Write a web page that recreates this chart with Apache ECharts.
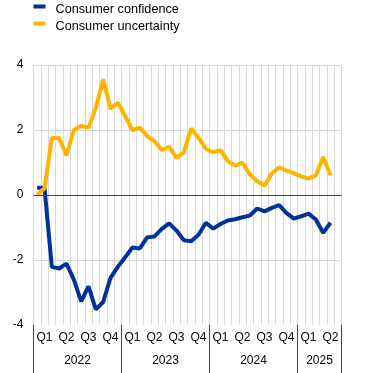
<!DOCTYPE html>
<html>
<head>
<meta charset="utf-8">
<script src="https://cdn.jsdelivr.net/npm/echarts@6/dist/echarts.min.js"></script>
<style>
html,body{margin:0;padding:0;background:#fff;}
#chart{width:372px;height:373px;}
</style>
</head>
<body>
<div id="chart"></div>
<script>
// Monthly categories, Jan 2022 - Jun 2025
const months = [
  '2022-01','2022-02','2022-03','2022-04','2022-05','2022-06','2022-07','2022-08','2022-09','2022-10','2022-11','2022-12',
  '2023-01','2023-02','2023-03','2023-04','2023-05','2023-06','2023-07','2023-08','2023-09','2023-10','2023-11','2023-12',
  '2024-01','2024-02','2024-03','2024-04','2024-05','2024-06','2024-07','2024-08','2024-09','2024-10','2024-11','2024-12',
  '2025-01','2025-02','2025-03','2025-04','2025-05','2025-06'
];
const consumerConfidence = [
  0.22, 0.22, -2.22, -2.27, -2.12, -2.61, -3.28, -2.82, -3.53, -3.30, -2.56, -2.22,
  -1.92, -1.62, -1.65, -1.31, -1.28, -1.05, -0.88, -1.10, -1.40, -1.43, -1.23, -0.86,
  -1.04, -0.90, -0.79, -0.75, -0.69, -0.64, -0.42, -0.51, -0.40, -0.32, -0.56, -0.73,
  -0.66, -0.58, -0.76, -1.17, -0.86
];
const consumerUncertainty = [
  0.00, 0.20, 1.75, 1.75, 1.21, 2.00, 2.12, 2.07, 2.68, 3.56, 2.65, 2.84,
  2.43, 1.99, 2.07, 1.81, 1.65, 1.38, 1.48, 1.14, 1.31, 2.04, 1.76, 1.42,
  1.31, 1.38, 1.04, 0.90, 0.99, 0.63, 0.42, 0.29, 0.66, 0.85, 0.75, 0.66,
  0.57, 0.50, 0.60, 1.17, 0.60
];
const quarterLabels = ['Q1','Q2','Q3','Q4'];
const yearLabels = ['2022','2023','2024','2025'];
const yearCenters = [6, 18, 30, 39];
const yearBounds = [0, 12, 24, 36, 42];
const yTicks = [-4, -2, 0, 2, 4];

const FONT = 'Liberation Sans, Arial, sans-serif';
const BLUE = '#003299';
const YELLOW = '#FFB400';

const chart = echarts.init(document.getElementById('chart'), null, {renderer: 'canvas'});
chart.setOption({
  animation: false,
  backgroundColor: '#fff',
  textStyle: {fontFamily: FONT},
  legend: {
    orient: 'vertical',
    left: 33.5,
    top: 3,
    padding: 0,
    itemWidth: 12,
    itemHeight: 10,
    itemGap: 4,
    icon: 'path://M0,0H12V4H0Z M0,10H0.01V10.01H0Z',
    textStyle: {fontFamily: FONT, fontSize: 12.7, color: '#000', padding: [0, 0, 0, 5]},
    data: ['Consumer confidence', 'Consumer uncertainty']
  },
  grid: {left: 33.5, right: 30.5, top: 65, bottom: 48.3, containLabel: false},
  xAxis: [
    {
      type: 'category',
      data: months,
      boundaryGap: true,
      axisLine: {show: false},
      axisTick: {show: false},
      splitLine: {show: true, interval: 0, lineStyle: {color: '#d9d9d9', width: 1}},
      axisLabel: {
        interval: function (idx) { return idx % 3 === 1; },
        formatter: function (val) { const m = parseInt(val.slice(5), 10); return quarterLabels[Math.floor((m - 1) / 3)]; },
        fontFamily: FONT, fontSize: 12, color: '#000', margin: 7
      }
    },
    {
      type: 'value',
      min: 0, max: 42,
      position: 'bottom',
      axisLine: {show: false},
      splitLine: {show: false},
      axisTick: {show: true, customValues: yearBounds, length: 49, lineStyle: {color: '#444', width: 1}},
      axisLabel: {
        customValues: yearCenters,
        formatter: function (v) { return yearLabels[yearCenters.indexOf(v)]; },
        fontFamily: FONT, fontSize: 12, color: '#000', margin: 30
      }
    }
  ],
  yAxis: {
    type: 'value',
    min: -4, max: 4, interval: 2,
    axisLine: {show: false},
    axisTick: {show: false},
    splitLine: {show: true, lineStyle: {color: ['rgba(0,0,0,0)', '#d9d9d9', '#d9d9d9', '#d9d9d9', '#d9d9d9'], width: 1}},
    axisLabel: {fontFamily: FONT, fontSize: 12, color: '#000', margin: 10}
  },
  series: [
    {
      name: 'Consumer confidence',
      type: 'line',
      data: consumerConfidence,
      showSymbol: false,
      symbol: 'none',
      lineStyle: {color: BLUE, width: 4},
      itemStyle: {color: BLUE},
      markLine: {
        silent: true, symbol: 'none', label: {show: false},
        lineStyle: {color: '#444', width: 1, type: 'solid'},
        data: [{yAxis: 0}]
      },
      z: 3
    },
    {
      name: 'Consumer uncertainty',
      type: 'line',
      data: consumerUncertainty,
      showSymbol: false,
      symbol: 'none',
      lineStyle: {color: YELLOW, width: 4},
      itemStyle: {color: YELLOW},
      z: 4
    }
  ]
});
</script>
</body>
</html>
